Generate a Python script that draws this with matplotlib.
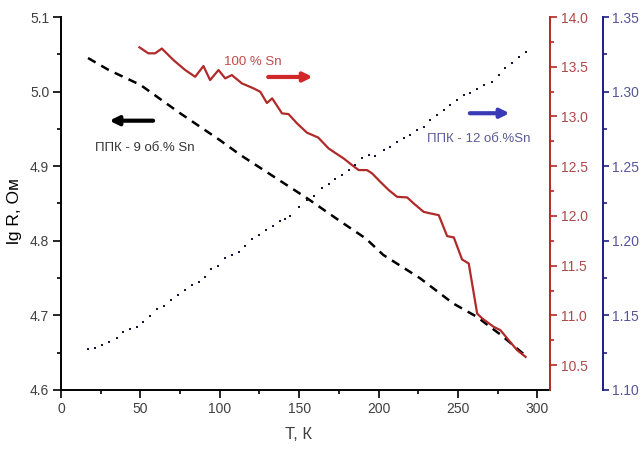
import matplotlib
matplotlib.use('Agg')
import matplotlib.pyplot as plt

plt.rcParams['font.family'] = ['Liberation Sans', 'DejaVu Sans']
fs = 10

# ППК - 9 об.% Sn  (left axis, lg R)
black_T = [17, 30, 50, 75, 100, 113, 134, 155, 176, 192, 203, 226, 247, 262, 270, 277, 292]
black_lgR = [5.045, 5.029, 5.009, 4.971, 4.935, 4.915, 4.886, 4.857, 4.826, 4.803,
             4.781, 4.750, 4.716, 4.698, 4.685, 4.674, 4.647]

# 100 % Sn  (red axis)
red_T = [49.4, 55.0, 59.3, 63.5, 70.8, 78.2, 84.5, 89.7, 93.9, 99.2, 103.4, 107.6, 113.9,
         121.2, 125.5, 129.7, 133.0, 139.2, 143.3, 148.6, 154.9, 162.0, 168.5, 173.8, 178.0,
         183.3, 187.5, 192.7, 195.9, 201.1, 206.4, 211.7, 218.0, 222.1, 228.4, 232.7, 237.9,
         243.2, 247.4, 252.6, 256.8, 262.1, 265.3, 272.6, 276.8, 282.0, 287.3, 292.6]
red_val = [13.695, 13.635, 13.635, 13.683, 13.567, 13.467, 13.399, 13.507, 13.366, 13.467,
           13.383, 13.416, 13.333, 13.283, 13.248, 13.135, 13.182, 13.031, 13.024, 12.931,
           12.837, 12.788, 12.679, 12.622, 12.578, 12.511, 12.461, 12.461, 12.428, 12.343,
           12.260, 12.192, 12.186, 12.126, 12.041, 12.025, 12.008, 11.797, 11.784, 11.562,
           11.522, 11.019, 10.969, 10.884, 10.851, 10.750, 10.650, 10.583]

# ППК - 12 об.%Sn  (blue axis)
blue_T = [17.2, 21.4, 26.0, 30.5, 35.1, 39.3, 43.5, 47.7, 51.9, 56.1, 60.3, 64.9, 69.1, 73.6,
          78.0, 82.2, 86.6, 90.8, 94.4, 99.0, 103.2, 107.6, 111.8, 116.0, 120.6, 125.0, 129.3,
          133.5, 138.1, 141.3, 144.4, 149.6, 154.9, 159.1, 164.4, 168.5, 172.8, 177.0, 181.2,
          185.4, 189.6, 193.8, 198.0, 203.2, 207.4, 211.7, 215.8, 220.1, 224.3, 228.4, 232.7,
          236.9, 241.0, 245.3, 249.5, 253.7, 257.9, 262.1, 266.3, 271.6, 275.7, 279.9, 284.2,
          288.3, 292.6]
blue_val = [1.1275, 1.1280, 1.1300, 1.1320, 1.1347, 1.1390, 1.1411, 1.1424, 1.1454, 1.1498,
            1.1543, 1.1565, 1.1603, 1.1637, 1.1670, 1.1702, 1.1724, 1.1759, 1.1813, 1.1833,
            1.1883, 1.1905, 1.1925, 1.1967, 1.2010, 1.2041, 1.2072, 1.2099, 1.2133, 1.2148,
            1.2164, 1.2228, 1.2273, 1.2300, 1.2352, 1.2378, 1.2412, 1.2441, 1.2475, 1.2508,
            1.2553, 1.2575, 1.2568, 1.2609, 1.2631, 1.2664, 1.2687, 1.2709, 1.2743, 1.2765,
            1.2810, 1.2843, 1.2877, 1.2910, 1.2944, 1.2974, 1.2989, 1.3017, 1.3041, 1.3066,
            1.3111, 1.3156, 1.3190, 1.3232, 1.3267]

red_c = '#b02a2a'
red_lab = '#b04848'
blue_c = '#1c1c8c'
blue_lab = '#55559a'
grey = '#404040'

fig = plt.figure(figsize=(6.43, 4.51), dpi=100)
ax = fig.add_axes([0.0949, 0.1353, 0.7605, 0.8270])
ax2 = ax.twinx()
ax3 = ax.twinx()

ax.plot(black_T, black_lgR, color='black', lw=1.8, linestyle=(0, (3.5, 2.6)))
ax2.plot(red_T, red_val, color=red_c, lw=1.6)
ax3.plot(blue_T, blue_val, linestyle='none', marker='s', ms=2.1, color='#15153a', mew=0)

ax.set_xlim(0, 308)
ax.set_ylim(4.6, 5.1)
ax2.set_ylim(10.25, 14.0)
ax3.set_ylim(1.10, 1.35)

ax.set_xticks([0, 50, 100, 150, 200, 250, 300])
ax.set_xticks([25, 75, 125, 175, 225, 275], minor=True)
ax.set_yticks([4.6, 4.7, 4.8, 4.9, 5.0, 5.1])
ax.set_yticks([4.65, 4.75, 4.85, 4.95, 5.05], minor=True)
ax.set_yticklabels(['4.6', '4.7', '4.8', '4.9', '5.0', '5.1'])
ax2.set_yticks([10.5, 11.0, 11.5, 12.0, 12.5, 13.0, 13.5, 14.0])
ax2.set_yticks([10.75, 11.25, 11.75, 12.25, 12.75, 13.25, 13.75], minor=True)
ax2.set_yticklabels(['10.5', '11.0', '11.5', '12.0', '12.5', '13.0', '13.5', '14.0'])
ax3.set_yticks([1.10, 1.15, 1.20, 1.25, 1.30, 1.35])
ax3.set_yticks([1.125, 1.175, 1.225, 1.275, 1.325], minor=True)
ax3.set_yticklabels(['1.10', '1.15', '1.20', '1.25', '1.30', '1.35'])

for s in ['top', 'right']:
    ax.spines[s].set_visible(False)
for a in [ax2, ax3]:
    for s in ['top', 'left', 'bottom']:
        a.spines[s].set_visible(False)
ax.spines['left'].set_linewidth(1.4)
ax.spines['bottom'].set_linewidth(1.4)
ax2.spines['right'].set_color(red_c)
ax2.spines['right'].set_linewidth(1.4)
ax3.spines['right'].set_position(('axes', 1.108))
ax3.spines['right'].set_color(blue_c)
ax3.spines['right'].set_linewidth(1.4)

ax.tick_params(which='major', length=5.5, width=1.2, colors='black', labelcolor=grey,
               labelsize=fs, pad=3)
ax.tick_params(which='minor', length=2.8, width=1.2, colors='black')
ax2.tick_params(which='major', length=5, width=1.2, colors=red_c, labelcolor=red_lab,
                labelsize=fs, pad=3)
ax2.tick_params(which='minor', length=3, width=1.2, colors=red_c)
ax3.tick_params(which='major', length=4.5, width=1.2, colors=blue_c, labelcolor=blue_lab,
                labelsize=fs, pad=2)
ax3.tick_params(which='minor', length=2.8, width=1.2, colors=blue_c)

ax.set_ylabel('lg R, Ом', fontsize=12.5, color='black')
ax.yaxis.set_label_coords(-0.08, 0.48)
ax.set_xlabel('Т, К', fontsize=12, color=grey)
ax.xaxis.set_label_coords(0.485, -0.1)

# labels with arrows
ax.text(121, 5.04, '100 % Sn', color='#c04a4a', fontsize=fs - 0.5, ha='center', va='center')
ax.annotate('', xy=(158.5, 5.0196), xytext=(130.5, 5.0196),
            arrowprops=dict(arrowstyle='-|>', color='#d02828', lw=3, mutation_scale=13,
                            shrinkA=0, shrinkB=0))
ax.text(53, 4.924, 'ППК - 9 об.% Sn', color='#333333', fontsize=fs - 0.5, ha='center', va='center')
ax.annotate('', xy=(30.5, 4.961), xytext=(58, 4.961),
            arrowprops=dict(arrowstyle='-|>', color='black', lw=3, mutation_scale=13,
                            shrinkA=0, shrinkB=0))
ax.text(263, 4.936, 'ППК - 12 об.%Sn', color='#5a5a9a', fontsize=fs - 0.5, ha='center', va='center')
ax.annotate('', xy=(282.5, 4.971), xytext=(257.5, 4.971),
            arrowprops=dict(arrowstyle='-|>', color='#3a3ab8', lw=3, mutation_scale=13,
                            shrinkA=0, shrinkB=0))

plt.savefig('out.png', dpi=100)
